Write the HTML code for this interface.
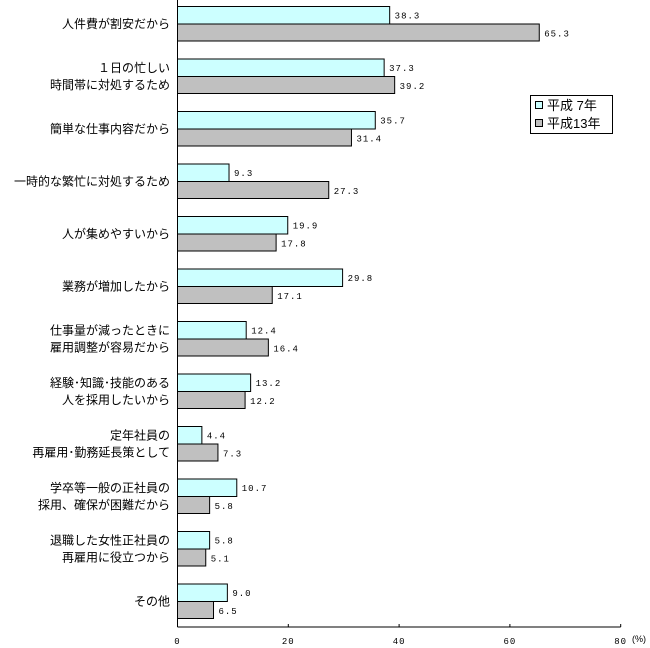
<!DOCTYPE html>
<html><head><meta charset="utf-8"><style>
body{margin:0;background:#fff}
svg{display:block;font-family:"Liberation Sans","Noto Sans CJK JP",sans-serif}
.v{font-family:"Liberation Mono",monospace;font-size:9px;letter-spacing:1px}
</style></head><body>
<svg id="c" width="650" height="648"></svg>
<script>
const categories=[["人件費が割安だから"],["１日の忙しい","時間帯に対処するため"],["簡単な仕事内容だから"],["一時的な繁忙に対処するため"],["人が集めやすいから"],["業務が増加したから"],["仕事量が減ったときに","雇用調整が容易だから"],["経験･知識･技能のある","人を採用したいから"],["定年社員の","再雇用･勤務延長策として"],["学卒等一般の正社員の","採用、確保が困難だから"],["退職した女性正社員の","再雇用に役立つから"],["その他"]];
const seriesH7=[38.3,37.3,35.7,9.3,19.9,29.8,12.4,13.2,4.4,10.7,5.8,9.0];
const seriesH13=[65.3,39.2,31.4,27.3,17.8,17.1,16.4,12.2,7.3,5.8,5.1,6.5];
const ticks=[0,20,40,60,80];
const seriesNames=["平成 7年","平成13年"];
const NS="http://www.w3.org/2000/svg";
const svg=document.getElementById('c');
const x0=177.5,pxPer=5.54,axisY=627;
const xs=v=>x0+v*pxPer;
const gy=i=>6.5+i*52.5;
function mk(t,a,p){const e=document.createElementNS(NS,t);for(const k in a)e.setAttribute(k,a[k]);(p||svg).appendChild(e);return e;}
categories.forEach((lines,i)=>{
  const y=gy(i);
  const b1=mk('rect',{x:x0,y:y,width:xs(seriesH7[i])-x0,height:17.5,fill:'#ccffff',stroke:'#000','stroke-width':1});
  
  
  const b2=mk('rect',{x:x0,y:y+17.5,width:xs(seriesH13[i])-x0,height:17,fill:'#c0c0c0',stroke:'#000','stroke-width':1});
  
  
  const t1=mk('text',{x:xs(seriesH7[i])+5,y:y+12,'class':'v'});t1.textContent=seriesH7[i].toFixed(1);
  
  
  const t2=mk('text',{x:xs(seriesH13[i])+5,y:y+30,'class':'v'});t2.textContent=seriesH13[i].toFixed(1);
  
  
  const cy=y+17.5;
  lines.forEach((ln,j)=>{
    const t=mk('text',{x:170,y:cy+4+(j-(lines.length-1)/2)*17,'font-size':12,'text-anchor':'end'});t.textContent=ln;
    
    
  });
});
mk('line',{x1:x0,y1:0,x2:x0,y2:axisY,stroke:'#000','stroke-width':1});
mk('line',{x1:x0,y1:axisY,x2:xs(80),y2:axisY,stroke:'#000','stroke-width':1});
ticks.forEach(v=>{
  mk('line',{x1:xs(v),y1:axisY-3,x2:xs(v),y2:axisY,stroke:'#000'});
  const t=mk('text',{x:xs(v),y:644,'class':'v','text-anchor':'middle'});t.textContent=v;
  
  
});
const u=mk('text',{x:632,y:642,'font-size':9});u.textContent='(%)';


const lg=mk('g',{});


mk('rect',{x:530.5,y:95.5,width:82,height:38,fill:'#fff',stroke:'#000'},lg);
[['#ccffff',0],['#c0c0c0',1]].forEach(([c,i])=>{
  mk('rect',{x:535.5,y:101.5+i*18,width:7,height:7,fill:c,stroke:'#000'},lg);
  const t=mk('text',{x:547,y:110+i*18,'font-size':13},lg);t.textContent=seriesNames[i];
  
  
});
</script>
</body></html>
